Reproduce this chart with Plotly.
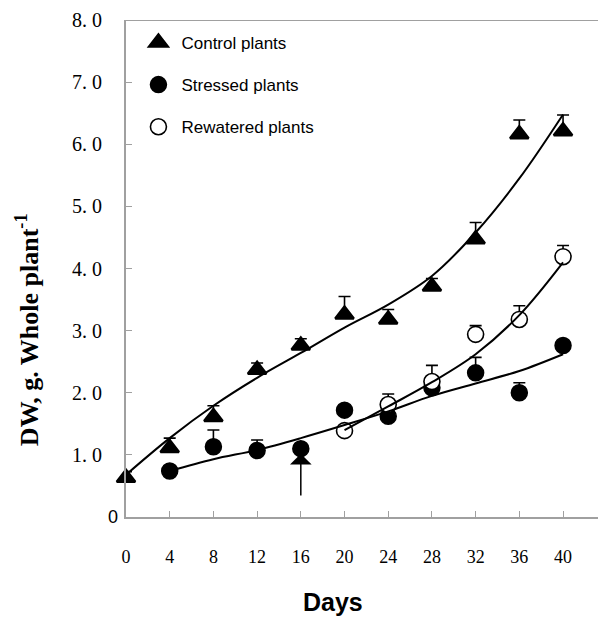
import plotly.graph_objects as go

# Sampling days
days_control = [0, 4, 8, 12, 16, 20, 24, 28, 32, 36, 40]
days_stressed = [4, 8, 12, 16, 20, 24, 28, 32, 36, 40]
days_rewatered = [20, 24, 28, 32, 36, 40]

# Dry weight (g per whole plant) and upper error (SE)
dw_control = [0.63, 1.11, 1.61, 2.37, 2.76, 3.26, 3.18, 3.71, 4.47, 6.16, 6.21]
err_control = [0.10, 0.16, 0.18, 0.11, 0.11, 0.29, 0.16, 0.13, 0.27, 0.23, 0.26]

dw_stressed = [0.74, 1.13, 1.07, 1.10, 1.72, 1.62, 2.08, 2.32, 2.00, 2.76]
err_stressed = [0.0, 0.27, 0.17, 0.0, 0.0, 0.0, 0.0, 0.25, 0.16, 0.0]

dw_rewatered = [1.39, 1.81, 2.18, 2.94, 3.18, 4.19]
err_rewatered = [0.0, 0.17, 0.26, 0.14, 0.22, 0.18]

# Fitted growth curves
fit_control = [0.68, 1.27, 1.79, 2.24, 2.64, 3.05, 3.42, 3.88, 4.58, 5.45, 6.48]
fit_stressed = [0.74, 0.93, 1.08, 1.27, 1.48, 1.70, 1.95, 2.15, 2.35, 2.62]
fit_rewatered = [1.40, 1.78, 2.17, 2.62, 3.25, 4.10]

# Start of rewatering
arrow_day = 16
arrow_tip = 1.02
arrow_tail = 0.32

x_ticks = list(range(0, 41, 4))
y_ticks = [1, 2, 3, 4, 5, 6, 7, 8]
y_ticktext = ["1. 0", "2. 0", "3. 0", "4. 0", "5. 0", "6. 0", "7. 0", "8. 0"]

SERIF = "Liberation Serif"
SANS = "Liberation Sans"

fig = go.Figure()

def err(vals):
    return dict(type="data", array=vals, arrayminus=[0] * len(vals),
                symmetric=False, color="black", thickness=1.6, width=6)

fig.add_trace(go.Scatter(
    x=days_control, y=dw_control, mode="markers", name="Control plants",
    legendgroup="c", cliponaxis=False,
    marker=dict(symbol="triangle-up", size=16, color="black",
                line=dict(color="black", width=2.5)),
    error_y=err(err_control)))
fig.add_trace(go.Scatter(
    x=days_stressed, y=dw_stressed, mode="markers", name="Stressed plants",
    legendgroup="s", cliponaxis=False,
    marker=dict(symbol="circle", size=16, color="black",
                line=dict(color="black", width=1.5)),
    error_y=err(err_stressed)))
fig.add_trace(go.Scatter(
    x=days_rewatered, y=dw_rewatered, mode="markers", name="Rewatered plants",
    legendgroup="r", cliponaxis=False,
    marker=dict(symbol="circle", size=16, color="white",
                line=dict(color="black", width=1.6)),
    error_y=err(err_rewatered)))

for xs, ys in [(days_control, fit_control), (days_stressed, fit_stressed),
               (days_rewatered, fit_rewatered)]:
    fig.add_trace(go.Scatter(
        x=xs, y=ys, mode="lines", showlegend=False, hoverinfo="skip",
        line=dict(color="black", width=2, shape="spline", smoothing=1.0)))

fig.add_annotation(
    x=arrow_day, y=arrow_tip, ax=arrow_day, ay=arrow_tail,
    xref="x", yref="y", axref="x", ayref="y", text="",
    showarrow=True, arrowhead=1, arrowsize=2.4, arrowwidth=1.5,
    arrowcolor="black")

# zero label on the value axis
fig.add_annotation(
    x=0, y=0, xref="x", yref="y", text="0", showarrow=False,
    xanchor="right", yanchor="middle", xshift=-6,
    font=dict(family=SANS, size=18, color="black"))

# axis titles
fig.add_annotation(
    x=0, y=0.376, xref="paper", yref="paper", xshift=-99,
    text="<b>DW, g. Whole plant<sup>-1</sup></b>", showarrow=False,
    textangle=-90, xanchor="center", yanchor="middle",
    font=dict(family=SERIF, size=26, color="black"))
fig.add_annotation(
    x=0.4386, y=0, xref="paper", yref="paper", yshift=-85,
    text="<b>Days</b>", showarrow=False, xanchor="center", yanchor="middle",
    font=dict(family=SANS, size=25, color="black"))

# top frame line
fig.add_shape(type="line", xref="paper", yref="y", x0=0, x1=1, y0=8, y1=8,
              line=dict(color="#a0a0a0", width=2))

fig.update_layout(
    width=598, height=618,
    margin=dict(l=126, r=0, t=20, b=101),
    paper_bgcolor="white", plot_bgcolor="white",
    showlegend=True,
    legend=dict(x=0.02, y=0.99, xanchor="left", yanchor="top",
                traceorder="grouped", tracegroupgap=17, itemwidth=36,
                font=dict(family=SANS, size=17, color="black"),
                bgcolor="rgba(0,0,0,0)"),
    xaxis=dict(range=[0, 43.2], tickvals=x_ticks,
               ticktext=[str(v) for v in x_ticks],
               ticks="inside", ticklen=6, tickcolor="#a0a0a0", tickwidth=1,
               showline=True, linecolor="#a0a0a0", linewidth=2,
               showgrid=False, zeroline=False, ticklabelstandoff=22,
               tickfont=dict(family=SERIF, size=18, color="black")),
    yaxis=dict(range=[0, 8], tickvals=y_ticks, ticktext=y_ticktext,
               ticks="inside", ticklen=6, tickcolor="#a0a0a0", tickwidth=1,
               showline=True, linecolor="#a0a0a0", linewidth=2,
               showgrid=False, zeroline=False, ticklabelstandoff=18,
               tickfont=dict(family=SERIF, size=20, color="black")),
)

fig.write_html("out.html")
